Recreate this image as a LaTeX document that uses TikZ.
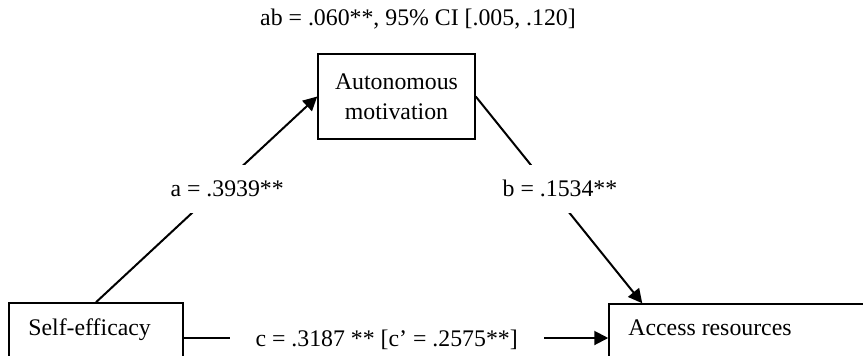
\documentclass[tikz,border=0pt]{standalone}
\usepackage{fontspec}
\setmainfont{Liberation Serif}
\usetikzlibrary{arrows.meta}
\begin{document}
\begin{tikzpicture}[x=0.5pt,y=-0.5pt,
  font=\fontsize{11.9}{15}\selectfont,
  box/.style={draw,line width=0.75pt,inner sep=0pt},
  txt/.style={inner sep=0pt,anchor=base west},
  lbl/.style={fill=white,text height=8pt,text depth=0pt,inner ysep=8pt,inner xsep=4pt},
  conn/.style={line width=1pt,-{Triangle[length=7pt,width=7pt]}}]
\useasboundingbox (0,0) rectangle (863,355);
\clip (0,0) rectangle (863,355);
% title
\node[anchor=base,inner sep=0pt] (title) at (418,25) {ab = .060**, 95\% CI [.005, .120]};
% boxes
\node[box,minimum width=78.5pt,minimum height=42.5pt,align=center] (am) at (396.5,96.5) {Autonomous\\motivation};
\node[box,minimum width=87pt,minimum height=35pt] (se) at (96,338) {};
\node[txt] (setext) at (28,335) {Self-efficacy};
\node[box,minimum width=145.5pt,minimum height=34pt] (ar) at (754.5,338) {};
\node[txt] (artext) at (628,335) {Access resources};
\coordinate (arin) at ([xshift=17pt]ar.north west);
% connectors
\draw[conn] (se.north) -- node[lbl,pos=0.552,xshift=4.5pt] (la) {a = .3939**} (am.west);
\draw[conn] (am.east) -- node[lbl,pos=0.446,xshift=5pt] (lb) {b = .1534**} (arin);
\draw[conn] (se.east) -- node[lbl,pos=0.478,inner xsep=13pt] (lc) {c = .3187 ** [c’ = .2575**]} (ar.west);
\end{tikzpicture}
\end{document}
